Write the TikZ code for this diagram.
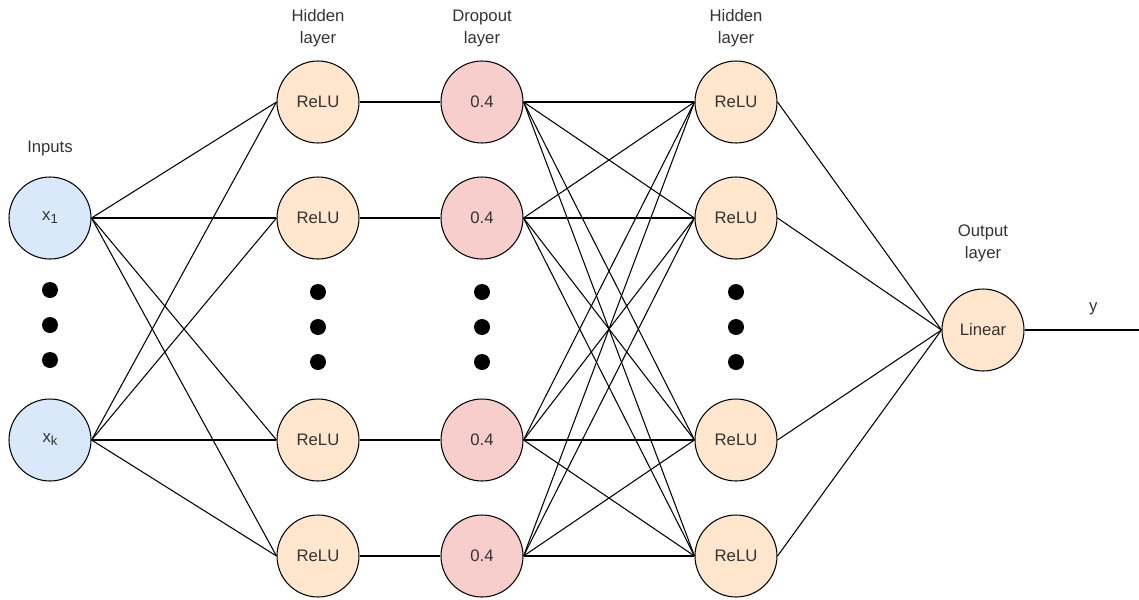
\documentclass[tikz,border=0pt]{standalone}
\usepackage{fontspec}
\setmainfont{Liberation Sans}
\usepackage{xcolor}
\usetikzlibrary{positioning}

\definecolor{inblue}{HTML}{DAE8FC}
\definecolor{reluorange}{HTML}{FFE6CC}
\definecolor{droppink}{HTML}{F8CECC}
\definecolor{textgray}{HTML}{333333}

\newcommand{\insub}[1]{x\raisebox{-0.35ex}{\fontsize{7.5}{9}\selectfont #1}}

\begin{document}
\begin{tikzpicture}[
    x=0.02cm, y=-0.02cm,
    neuron/.style={circle, draw, line width=0.6pt, minimum size=1.64cm, inner sep=0pt, text=textgray, font=\fontsize{9.5}{12}\selectfont},
    inputnode/.style={neuron, fill=inblue},
    relunode/.style={neuron, fill=reluorange},
    dropnode/.style={neuron, fill=droppink},
    dotnode/.style={circle, fill=black, minimum size=0.32cm, inner sep=0pt},
    layerlabel/.style={align=center, text=textgray, font=\fontsize{9.5}{12.5}\selectfont, inner sep=1pt},
    conn/.style={line width=0.6pt}
]
    \useasboundingbox (0,0) rectangle (1139,599);

    % Inputs
    \node[inputnode] (in1) at (50,218) {\insub{1}};
    \node[inputnode] (ink) at (50,440) {\insub{k}};
    \node[dotnode] (dotin1) at (50,290) {};
    \node[dotnode] (dotin2) at (50,325) {};
    \node[dotnode] (dotin3) at (50,360) {};
    \node[layerlabel, above=0.36cm of in1] (lblin) {Inputs};

    % First hidden layer
    \node[relunode] (ha1) at (318,102) {ReLU};
    \node[relunode] (ha2) at (318,218) {ReLU};
    \node[relunode] (ha3) at (318,440) {ReLU};
    \node[relunode] (ha4) at (318,556) {ReLU};
    \node[dotnode] (dotha1) at (318,292) {};
    \node[dotnode] (dotha2) at (318,327) {};
    \node[dotnode] (dotha3) at (318,362) {};
    \node[layerlabel, above=0.22cm of ha1] (lblha) {Hidden\\layer};

    % Dropout layer
    \node[dropnode] (dr1) at (482,102) {0.4};
    \node[dropnode] (dr2) at (482,218) {0.4};
    \node[dropnode] (dr3) at (482,440) {0.4};
    \node[dropnode] (dr4) at (482,556) {0.4};
    \node[dotnode] (dotdr1) at (482,292) {};
    \node[dotnode] (dotdr2) at (482,327) {};
    \node[dotnode] (dotdr3) at (482,362) {};
    \node[layerlabel, above=0.22cm of dr1] (lbldr) {Dropout\\layer};

    % Second hidden layer
    \node[relunode] (hb1) at (736,102) {ReLU};
    \node[relunode] (hb2) at (736,218) {ReLU};
    \node[relunode] (hb3) at (736,440) {ReLU};
    \node[relunode] (hb4) at (736,556) {ReLU};
    \node[dotnode] (dothb1) at (736,292) {};
    \node[dotnode] (dothb2) at (736,327) {};
    \node[dotnode] (dothb3) at (736,362) {};
    \node[layerlabel, above=0.22cm of hb1] (lblhb) {Hidden\\layer};

    % Output
    \node[relunode] (out) at (983,330) {Linear};
    \node[layerlabel, above=0.48cm of out] (lblout) {Output\\layer};
    \coordinate (yend) at (1139,330);

    % Connections
    \foreach \i in {in1,ink}
        \foreach \j in {ha1,ha2,ha3,ha4}
            \draw[conn] (\i.east) -- (\j.west);
    \foreach \n in {1,...,4}
        \draw[conn] (ha\n.east) -- (dr\n.west);
    \foreach \i in {1,...,4}
        \foreach \j in {1,...,4}
            \draw[conn] (dr\i.east) -- (hb\j.west);
    \foreach \n in {1,...,4}
        \draw[conn] (hb\n.east) -- (out.west);
    \draw[conn] (out.east) -- node[pos=0.6, above=0.25cm, layerlabel] (lbly) {y} (yend);

\end{tikzpicture}
\end{document}
